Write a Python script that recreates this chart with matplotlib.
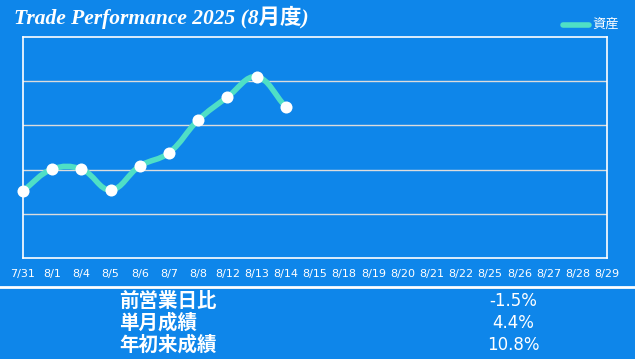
import numpy as np
import matplotlib
matplotlib.use("Agg")
import matplotlib.pyplot as plt
from matplotlib.path import Path
from matplotlib.patches import PathPatch
from matplotlib.lines import Line2D

dates = ["7/31", "8/1", "8/4", "8/5", "8/6", "8/7", "8/8", "8/12", "8/13", "8/14",
         "8/15", "8/18", "8/19", "8/20", "8/21", "8/22", "8/25", "8/26", "8/27", "8/28", "8/29"]
assets = [1.52, 2.01, 2.01, 1.54, 2.08, 2.38, 3.12, 3.64, 4.10, 3.42]
stat_names = ["前営業日比", "単月成績", "年初来成績"]
stat_values = ["-1.5%", "4.4%", "10.8%"]

BG = "#0E86EA"
TEAL = "#4FDFC6"
W, H = 635, 359

plt.rcParams['font.family'] = ['DejaVu Sans', 'Noto Sans CJK JP']

fig = plt.figure(figsize=(W / 100, H / 100), dpi=100, facecolor=BG)
ax = fig.add_axes([23 / W, 1 - 258 / H, 584 / W, 221 / H], facecolor=BG)

ax.set_xlim(0, len(dates) - 1)
ax.set_ylim(0, 5)
ax.set_yticks([1, 2, 3, 4])
ax.set_yticklabels([])
ax.tick_params(axis="y", length=0)
ax.grid(axis="y", color="#dcdcdc", linewidth=1)
ax.set_xticks(range(len(dates)))
ax.set_xticklabels(dates, color="white", fontsize=8)
ax.tick_params(axis="x", length=0, pad=8)
for s in ax.spines.values():
    s.set_color("white")
    s.set_linewidth(1.2)

# smooth line (bezier, tension 0.4) computed in pixel-like space
x = np.arange(len(assets), dtype=float)
y = np.array(assets)
sx, sy = 584 / (len(dates) - 1), 221 / 5
px, py = x * sx, y * sy
t = 0.4
cp_prev, cp_next = [], []
for i in range(len(px)):
    p0 = (px[max(i - 1, 0)], py[max(i - 1, 0)])
    p1 = (px[i], py[i])
    p2 = (px[min(i + 1, len(px) - 1)], py[min(i + 1, len(px) - 1)])
    d01 = np.hypot(p1[0] - p0[0], p1[1] - p0[1])
    d12 = np.hypot(p2[0] - p1[0], p2[1] - p1[1])
    s01 = d01 / (d01 + d12) if d01 + d12 else 0
    s12 = d12 / (d01 + d12) if d01 + d12 else 0
    fa, fb = t * s01, t * s12
    cp_prev.append((p1[0] - fa * (p2[0] - p0[0]), p1[1] - fa * (p2[1] - p0[1])))
    cp_next.append((p1[0] + fb * (p2[0] - p0[0]), p1[1] + fb * (p2[1] - p0[1])))
verts = [(px[0] / sx, py[0] / sy)]
codes = [Path.MOVETO]
for i in range(1, len(px)):
    verts += [(cp_next[i - 1][0] / sx, cp_next[i - 1][1] / sy),
              (cp_prev[i][0] / sx, cp_prev[i][1] / sy),
              (px[i] / sx, py[i] / sy)]
    codes += [Path.CURVE4] * 3
ax.add_patch(PathPatch(Path(verts, codes), facecolor="none", edgecolor=TEAL,
                       linewidth=4, capstyle="round", joinstyle="round", zorder=3, clip_on=False))
ax.scatter(x, y, s=75, color="white", zorder=4, clip_on=False, linewidths=0)

# title and legend
fig.text(14 / W, 1 - 17 / H, "Trade Performance 2025 (8月度)", color="white",
         fontsize=15.5, fontweight="bold", fontstyle="italic",
         family=["Liberation Serif", "Noto Sans CJK JP"], va="center", ha="left")
fig.add_artist(Line2D([563 / W, 589 / W], [1 - 25 / H, 1 - 25 / H], color=TEAL,
                      linewidth=4, solid_capstyle="round"))
fig.text(592 / W, 1 - 24 / H, "資産", color="white", fontsize=9.5,
         family=["Noto Sans CJK JP"], va="center", ha="left")

# summary section
fig.add_artist(Line2D([0, 1], [1 - 287 / H, 1 - 287 / H], color="white", linewidth=2))
row_y = [301, 323, 345]
for name, val, ry in zip(stat_names, stat_values, row_y):
    fig.text(119 / W, 1 - ry / H, name, color="white", fontsize=14, fontweight="bold",
             family=["Noto Sans CJK JP"], va="center", ha="left")
    fig.text(513 / W, 1 - ry / H, val, color="white", fontsize=12,
             va="center", ha="center")

fig.savefig("out.png", dpi=100, facecolor=BG)
